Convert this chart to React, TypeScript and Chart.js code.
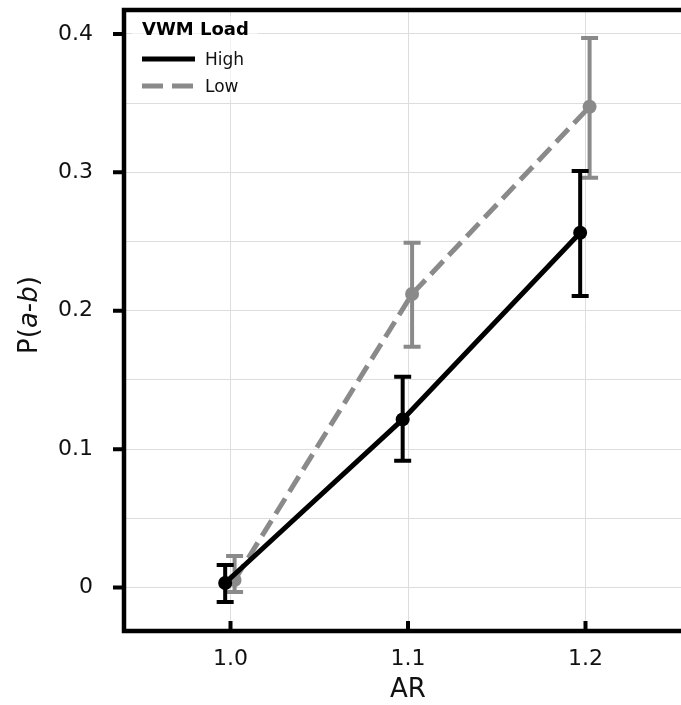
import { useEffect, useRef } from 'react';
import { Chart, registerables } from 'chart.js';

Chart.register(...registerables);

// ---- data ----
const arLevels = [1.0, 1.1, 1.2];
const highMean = [0.0033, 0.1215, 0.2564];
const highLower = [-0.0105, 0.0916, 0.2106];
const highUpper = [0.0163, 0.1523, 0.3009];
const lowMean = [0.0054, 0.2121, 0.3474];
const lowLower = [-0.0033, 0.174, 0.2961];
const lowUpper = [0.0228, 0.2491, 0.397];
const seriesLabels = ['High', 'Low'];
const legendTitle = 'VWM Load';
const xTitle = 'AR';
const xTicks = [1.0, 1.1, 1.2];
const yTicks = [0, 0.05, 0.1, 0.15, 0.2, 0.25, 0.3, 0.35, 0.4];
const yMajorTicks = [0, 0.1, 0.2, 0.3, 0.4];

const FONT = '"DejaVu Sans", sans-serif';
const HIGH_DODGE = -0.003;
const LOW_DODGE = 0.0023;
const GRAY = '#8a8a8a';

const errorBarPlugin = {
  id: 'errorBars',
  beforeDatasetDraw(chart: any, args: any) {
    const ds: any = chart.data.datasets[args.index];
    const xs = chart.scales.x;
    const ys = chart.scales.y;
    const ctx = chart.ctx;
    ctx.save();
    ctx.strokeStyle = ds.borderColor;
    ctx.lineWidth = 4;
    ctx.setLineDash([]);
    ctx.lineCap = 'butt';
    ds.data.forEach((p: any, i: number) => {
      const px = xs.getPixelForValue(p.x);
      const top = ys.getPixelForValue(ds.errUpper[i]);
      const bot = ys.getPixelForValue(ds.errLower[i]);
      ctx.beginPath();
      ctx.moveTo(px, top);
      ctx.lineTo(px, bot);
      ctx.moveTo(px - 8.5, top);
      ctx.lineTo(px + 8.5, top);
      ctx.moveTo(px - 8.5, bot);
      ctx.lineTo(px + 8.5, bot);
      ctx.stroke();
    });
    ctx.restore();
  },
};

const framePlugin = {
  id: 'frameAndText',
  afterDraw(chart: any) {
    const ctx = chart.ctx;
    const { left, right, top, bottom } = chart.chartArea;
    const xs = chart.scales.x;
    const ys = chart.scales.y;
    ctx.save();
    // legend
    ctx.fillStyle = 'rgba(255,255,255,0.6)';
    ctx.fillRect(132, 16, 126, 84);
    ctx.fillStyle = '#000';
    ctx.font = `bold 18px ${FONT}`;
    ctx.textAlign = 'left';
    ctx.textBaseline = 'alphabetic';
    ctx.fillText(legendTitle, 142, 35);
    const rows = [59, 86];
    chart.data.datasets.forEach((ds: any, i: number) => {
      const y = rows[i];
      ctx.strokeStyle = ds.borderColor;
      ctx.lineWidth = 5;
      ctx.lineCap = 'butt';
      ctx.setLineDash(ds.borderDash && ds.borderDash.length ? [21, 9] : []);
      ctx.beginPath();
      ctx.moveTo(142, y);
      ctx.lineTo(195, y);
      ctx.stroke();
      ctx.setLineDash([]);
      ctx.fillStyle = '#111';
      ctx.font = `17px ${FONT}`;
      ctx.fillText(ds.label, 205, y + 6);
    });

    // frame
    ctx.strokeStyle = '#000';
    ctx.lineWidth = 4.5;
    ctx.setLineDash([]);
    ctx.strokeRect(left, top, right - left, bottom - top);
    // tick marks
    ctx.lineWidth = 4;
    ctx.beginPath();
    yMajorTicks.forEach((v) => {
      const py = ys.getPixelForValue(v);
      ctx.moveTo(left - 11, py);
      ctx.lineTo(left, py);
    });
    xTicks.forEach((v) => {
      const px = xs.getPixelForValue(v);
      ctx.moveTo(px, bottom - 10);
      ctx.lineTo(px, bottom);
    });
    ctx.stroke();

    // x title
    ctx.fillStyle = '#111';
    ctx.font = `26px ${FONT}`;
    ctx.textAlign = 'center';
    ctx.textBaseline = 'alphabetic';
    ctx.fillText(xTitle, (left + right) / 2, 697);

    // y title: P(a-b) with italic a and b
    const parts: [string, boolean][] = [['P(', false], ['a', true], ['-', false], ['b', true], [')', false]];
    const fontOf = (it: boolean) => `${it ? 'italic ' : ''}26px ${FONT}`;
    let total = 0;
    parts.forEach(([t, it]) => {
      ctx.font = fontOf(it);
      total += ctx.measureText(t).width;
    });
    ctx.translate(37, 315);
    ctx.rotate(-Math.PI / 2);
    ctx.textAlign = 'left';
    let cx = -total / 2;
    parts.forEach(([t, it]) => {
      ctx.font = fontOf(it);
      ctx.fillText(t, cx, 0);
      cx += ctx.measureText(t).width;
    });
    ctx.restore();
  },
};

export default function App() {
  const ref = useRef<HTMLCanvasElement | null>(null);

  useEffect(() => {
    if (!ref.current) return;
    const chart = new Chart(ref.current, {
      type: 'line',
      data: {
        datasets: [
          {
            label: seriesLabels[0],
            data: arLevels.map((a, i) => ({ x: a + HIGH_DODGE, y: highMean[i] })),
            errLower: highLower,
            errUpper: highUpper,
            borderColor: '#000000',
            backgroundColor: '#000000',
            borderWidth: 5,
            borderDash: [],
            pointRadius: 7,
            pointBorderWidth: 0,
            pointBackgroundColor: '#000000',
            tension: 0,
          } as any,
          {
            label: seriesLabels[1],
            data: arLevels.map((a, i) => ({ x: a + LOW_DODGE, y: lowMean[i] })),
            errLower: lowLower,
            errUpper: lowUpper,
            borderColor: GRAY,
            backgroundColor: GRAY,
            borderWidth: 5,
            borderDash: [18, 8],
            pointRadius: 7,
            pointBorderWidth: 0,
            pointBackgroundColor: GRAY,
            tension: 0,
          } as any,
        ],
      },
      options: {
        animation: false,
        responsive: false,
        maintainAspectRatio: false,
        layout: { padding: { left: 0, top: 10, right: 8, bottom: 0 } },
        plugins: { legend: { display: false }, tooltip: { enabled: false } },
        scales: {
          x: {
            type: 'linear',
            min: 0.94,
            max: 1.26,
            afterBuildTicks: (s: any) => {
              s.ticks = xTicks.map((v) => ({ value: v }));
            },
            afterFit: (s: any) => {
              s.height = 74;
              s.paddingLeft = 0;
              s.paddingRight = 0;
              s.paddingTop = 0;
              s.paddingBottom = 0;
            },
            grid: { color: '#dddddd', lineWidth: 1, drawTicks: false },
            border: { display: false },
            ticks: {
              padding: 15,
              autoSkip: false,
              maxRotation: 0,
              color: '#111111',
              font: { family: FONT, size: 22 },
              callback: (v: any) => Number(v).toFixed(1),
            },
          },
          y: {
            type: 'linear',
            min: -0.0314,
            max: 0.4173,
            afterBuildTicks: (s: any) => {
              s.ticks = yTicks.map((v) => ({ value: v }));
            },
            afterFit: (s: any) => {
              s.width = 124;
              s.paddingLeft = 0;
              s.paddingRight = 0;
              s.paddingTop = 0;
              s.paddingBottom = 0;
            },
            grid: { color: '#dddddd', lineWidth: 1, drawTicks: false },
            border: { display: false },
            ticks: {
              padding: 31,
              autoSkip: false,
              color: '#111111',
              font: { family: FONT, size: 22 },
              callback: (v: any) => {
                const n = Number(v);
                const major = yMajorTicks.some((m) => Math.abs(m - n) < 1e-6);
                if (!major) return '';
                return Math.abs(n) < 1e-9 ? '0' : n.toFixed(1);
              },
            },
          },
        },
      } as any,
      plugins: [errorBarPlugin, framePlugin],
    });
    return () => chart.destroy();
  }, []);

  return (
    <div
      style={{
        position: 'absolute',
        left: 0,
        top: 0,
        width: 681,
        height: 705,
        overflow: 'hidden',
        background: '#ffffff',
      }}
    >
      <canvas ref={ref} width={700} height={705} style={{ width: 700, height: 705, display: 'block' }} />
    </div>
  );
}
